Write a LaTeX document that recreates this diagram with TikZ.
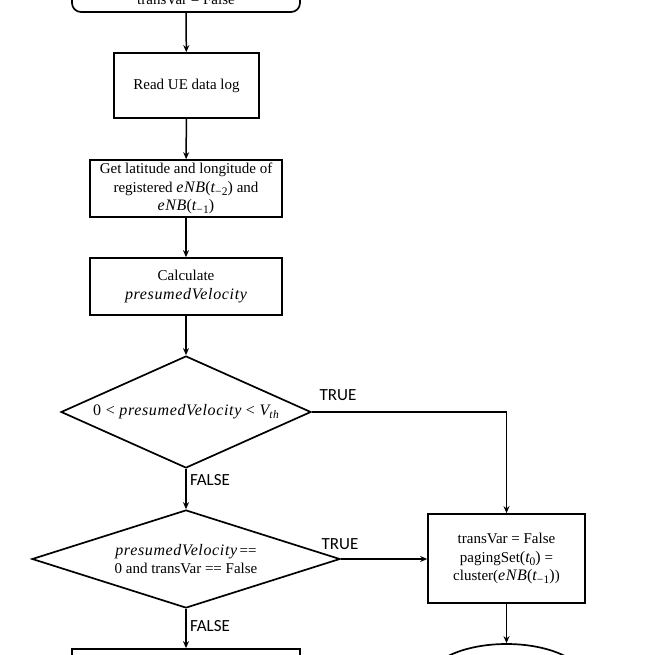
\documentclass[tikz,border=0pt]{standalone}
\usepackage{fontspec}
\setmainfont{Liberation Serif}
\newfontfamily\lblfont{Carlito}
\newfontfamily\mfont{Liberation Serif}[LetterSpace=4]
\newcommand{\mv}[1]{{\mfont\fontsize{16}{18.5}\selectfont\itshape #1}}
\newcommand{\mr}[1]{{\mfont\fontsize{16}{18.5}\selectfont #1}}
\newcommand{\sbx}[1]{\raisebox{-0.45ex}{\mfont\fontsize{11.5}{12}\selectfont #1}}
\usetikzlibrary{shapes.geometric,arrows.meta}
\begin{document}
\begin{tikzpicture}[x=1pt,y=-1pt,
  every node/.style={font=\fontsize{15}{18.5}\selectfont, align=center},
  boxnode/.style={draw, line width=1.7pt, rectangle, inner sep=0pt},
  termnode/.style={draw, line width=1.7pt, rounded corners=9pt, inner sep=0pt},
  decnode/.style={draw, line width=1.7pt, diamond, inner sep=0pt},
  ovalnode/.style={draw, line width=1.7pt, ellipse, inner sep=0pt},
  flow/.style={line width=1.5pt, -{Stealth[length=7pt,width=6pt]}},
  lbl/.style={font=\lblfont\fontsize{17}{20}\selectfont}
]
\useasboundingbox (0,0) rectangle (655,655);
\clip (0,0) rectangle (655,655);

\node[termnode, minimum width=228pt, minimum height=26pt] (top) at (186,-1) {transVar = False};
\node[boxnode, minimum width=145pt, minimum height=65pt] (read) at (186.5,85.5) {Read UE data log};
\node[boxnode, minimum width=192pt, minimum height=57pt] (geo) at (186,188.5)
  {Get latitude and longitude of\\ registered \mv{eNB}\mr{(}\mv{t}\sbx{−2}\mr{)} and\\ \mv{eNB}\mr{(}\mv{t}\sbx{−1}\mr{)}};
\node[boxnode, minimum width=192pt, minimum height=57pt] (calc) at (186,286.5)
  {Calculate\\ \mv{presumedVelocity}};
\node[decnode, shape aspect=2.2, minimum width=250pt, minimum height=112pt] (d1) at (186,412)
  {\mr{0 < }\mv{presumedVelocity}\mr{ < }\mv{V}\sbx{\itshape th}};
\node[decnode, shape aspect=3.1, minimum width=308pt, minimum height=98pt] (d2) at (186,559)
  {\mv{presumedVelocity}\,==\\ 0 and transVar == False};
\node[boxnode, minimum width=157pt, minimum height=89pt] (rbox) at (506.5,558.5)
  {transVar = False\\ pagingSet\mr{(}\mv{t}\sbx{0}\mr{)} =\\ cluster(\mv{eNB}\mr{(}\mv{t}\sbx{−1}\mr{)})};
\node[boxnode, minimum width=228pt, minimum height=52pt] (bl) at (186,675) {};
\node[ovalnode, minimum width=160pt, minimum height=76pt] (ell) at (506.5,682) {};

\draw[flow] (top) -- (read);
\draw[flow] (read) -- (geo);
\draw[flow] (geo) -- (calc);
\draw[flow] (calc) -- (d1);
\draw[flow] (d1) -- (d2);
\draw[flow] (d1.east) -| (rbox.north);
\draw[flow] (d2.east) -- (d2.east -| rbox.west);
\draw[flow] (d2) -- (bl);
\draw[flow] (rbox) -- (ell);

\node[lbl, anchor=center] (t1) at (338,395) {TRUE};
\node[lbl, anchor=center] (t2) at (340,544) {TRUE};
\node[lbl, anchor=center] (f1) at (210,480) {FALSE};
\node[lbl, anchor=center] (f2) at (210,626) {FALSE};
\end{tikzpicture}
\end{document}
